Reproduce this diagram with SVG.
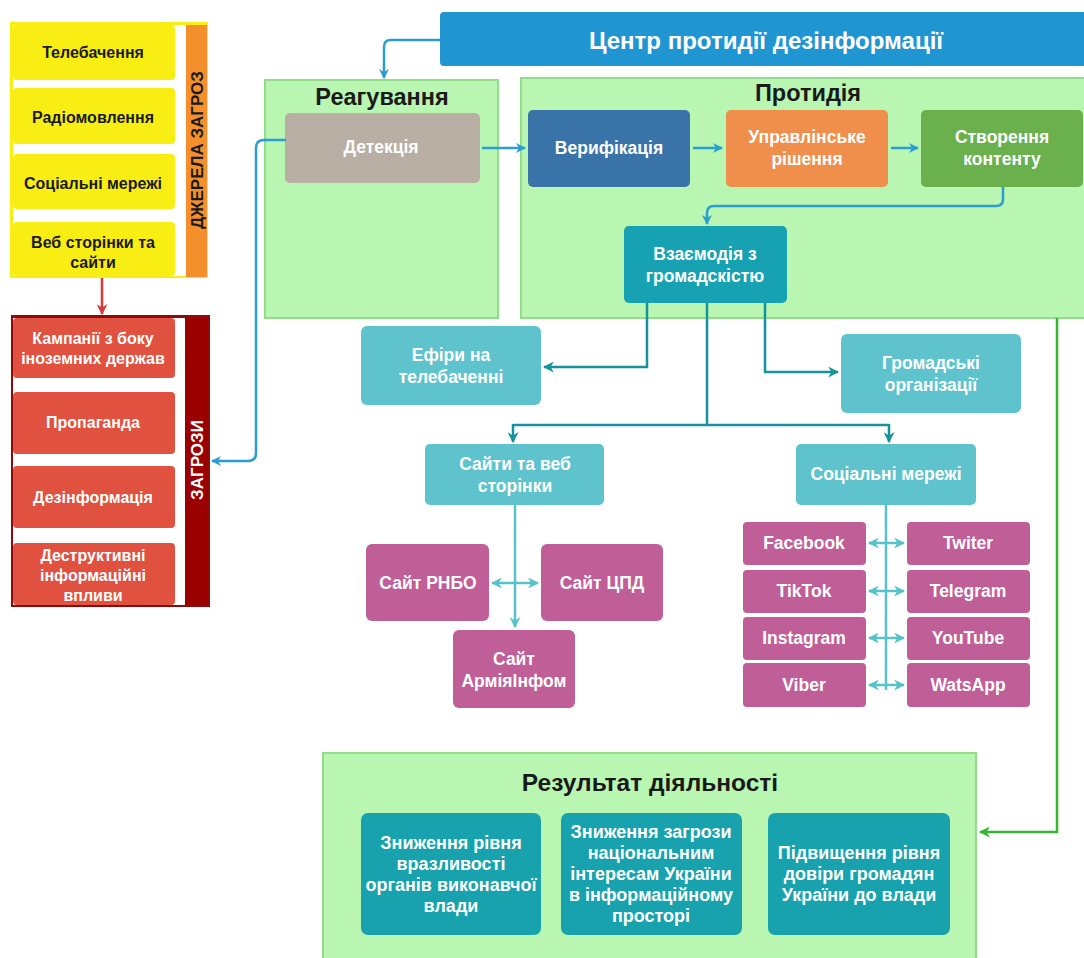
<svg xmlns="http://www.w3.org/2000/svg" width="1084" height="958" viewBox="0 0 1084 958">
<style>
text{font-family:"Liberation Sans",Arial,sans-serif;font-weight:bold;text-anchor:middle;dominant-baseline:central}
.w{fill:#fff;font-size:17.5px}
.r{fill:#fff;font-size:18px}
.s{fill:#fff;font-size:16px}
.k{fill:#1a1a1a;font-size:16px}
.t{fill:#1a1a1a;font-size:23.5px}
.panel{fill:#b9f6b2;stroke:#92dc8c;stroke-width:2}
.mag{fill:#c05e98}
.lt{fill:#5ec3cd}
.ln{fill:none;stroke-width:2.5}
</style>
<defs>
<marker id="ab" viewBox="0 0 10 10" refX="9" refY="5" markerWidth="10" markerHeight="10" markerUnits="userSpaceOnUse" orient="auto-start-reverse"><path d="M0,0 L10,5 L0,10 L3,5 Z" fill="#2a9dd3"/></marker>
<marker id="at" viewBox="0 0 10 10" refX="9" refY="5" markerWidth="11" markerHeight="11" markerUnits="userSpaceOnUse" orient="auto-start-reverse"><path d="M0,0 L10,5 L0,10 L3,5 Z" fill="#16929e"/></marker>
<marker id="al" viewBox="0 0 10 10" refX="9" refY="5" markerWidth="11" markerHeight="11" markerUnits="userSpaceOnUse" orient="auto-start-reverse"><path d="M0,0 L10,5 L0,10 L3,5 Z" fill="#56c2c9"/></marker>
<marker id="ar" viewBox="0 0 10 10" refX="9" refY="5" markerWidth="11" markerHeight="11" markerUnits="userSpaceOnUse" orient="auto"><path d="M0,0 L10,5 L0,10 L3,5 Z" fill="#d43c3c"/></marker>
<marker id="ag" viewBox="0 0 10 10" refX="9" refY="5" markerWidth="11" markerHeight="11" markerUnits="userSpaceOnUse" orient="auto"><path d="M0,0 L10,5 L0,10 L3,5 Z" fill="#33b733"/></marker>
</defs>
<rect width="1084" height="958" fill="#fff"/>

<!-- panels -->
<g id="panel-reaguvannia"><rect class="panel" x="265" y="80" width="233" height="238"/><text class="t" x="382" y="97">Реагування</text></g>
<g id="panel-protydiia"><rect class="panel" x="521" y="78" width="570" height="240"/><text class="t" x="808" y="93">Протидія</text></g>
<g id="panel-result"><rect class="panel" x="323" y="753" width="653" height="215" fill="#b1eeab"/><text class="t" x="650" y="782" style="font-size:24.5px">Результат діяльності</text></g>

<!-- sources -->
<g id="sources">
<rect x="10" y="22" width="198" height="256" fill="#f8ee14"/>
<rect x="13" y="25" width="173" height="251" fill="#fff"/>
<rect x="186" y="25" width="21" height="252" fill="#f4902c"/>
<text x="197" y="150" transform="rotate(-90 197 150)" style="font-size:17px;fill:#1a1a1a">ДЖЕРЕЛА ЗАГРОЗ</text>
</g>
<g id="src-tv"><rect x="13" y="25" width="162" height="55" rx="4" fill="#f8ee14"/><text class="k" x="93" y="52">Телебачення</text></g>
<g id="src-radio"><rect x="13" y="88" width="162" height="56" rx="4" fill="#f8ee14"/><text class="k" x="93" y="117">Радіомовлення</text></g>
<g id="src-social"><rect x="13" y="154" width="162" height="55" rx="4" fill="#f8ee14"/><text class="k" x="93" y="183">Соціальні мережі</text></g>
<g id="src-web"><rect x="13" y="222" width="162" height="54" rx="4" fill="#f8ee14"/><text class="k" x="93" y="242">Веб сторінки та</text><text class="k" x="93" y="262">сайти</text></g>

<!-- threats -->
<g id="threats">
<rect x="11" y="315" width="199" height="292" fill="#8f0a0a"/>
<rect x="13" y="318" width="172" height="287" fill="#fff"/>
<rect x="185" y="318" width="23" height="287" fill="#9a0000"/>
<text x="197" y="460" transform="rotate(-90 197 460)" style="font-size:17px;fill:#fff">ЗАГРОЗИ</text>
</g>
<g id="thr-campaigns"><rect x="13" y="318" width="162" height="60" rx="4" fill="#e0513f"/><text class="s" x="93" y="338">Кампанії з боку</text><text class="s" x="93" y="358">іноземних держав</text></g>
<g id="thr-propaganda"><rect x="13" y="392" width="162" height="62" rx="4" fill="#e0513f"/><text class="s" x="93" y="422">Пропаганда</text></g>
<g id="thr-disinfo"><rect x="13" y="466" width="162" height="62" rx="4" fill="#e0513f"/><text class="s" x="93" y="497">Дезінформація</text></g>
<g id="thr-destructive"><rect x="13" y="543" width="162" height="62" rx="4" fill="#e0513f"/><text class="s" x="93" y="555">Деструктивні</text><text class="s" x="93" y="575">інформаційні</text><text class="s" x="93" y="595">впливи</text></g>

<!-- header -->
<g id="center"><rect x="440" y="12" width="650" height="54" rx="4" fill="#1f95d2"/><text x="766" y="40" style="font-size:24px;fill:#fff">Центр протидії дезінформації</text></g>

<g id="detection"><rect x="285" y="113" width="195" height="70" rx="5" fill="#b9aea4"/><text class="w" x="381" y="147">Детекція</text></g>
<g id="verification"><rect x="528" y="110" width="162" height="77" rx="5" fill="#3a73a7"/><text class="w" x="609" y="148">Верифікація</text></g>
<g id="decision"><rect x="726" y="110" width="162" height="77" rx="5" fill="#f08f4c"/><text class="w" x="807" y="137">Управлінське</text><text class="w" x="807" y="159">рішення</text></g>
<g id="content"><rect x="921" y="110" width="162" height="77" rx="5" fill="#6ab14e"/><text class="w" x="1002" y="137">Створення</text><text class="w" x="1002" y="159">контенту</text></g>
<g id="interaction"><rect x="624" y="226" width="163" height="77" rx="5" fill="#16a2b2"/><text class="w" x="705" y="254">Взаємодія з</text><text class="w" x="705" y="276">громадскістю</text></g>

<g id="tv-air"><rect class="lt" x="361" y="326" width="180" height="79" rx="6"/><text class="w" x="451" y="355">Ефіри на</text><text class="w" x="451" y="377">телебаченні</text></g>
<g id="ngo"><rect class="lt" x="841" y="334" width="180" height="79" rx="6"/><text class="w" x="931" y="363">Громадські</text><text class="w" x="931" y="385">організації</text></g>
<g id="sites"><rect class="lt" x="425" y="444" width="179" height="61" rx="5"/><text class="w" x="515" y="464">Сайти та веб</text><text class="w" x="515" y="486">сторінки</text></g>
<g id="socials"><rect class="lt" x="796" y="444" width="180" height="61" rx="5"/><text class="w" x="886" y="474">Соціальні мережі</text></g>

<g id="site-rnbo"><rect class="mag" x="366" y="544" width="123" height="77" rx="6"/><text class="w" x="428" y="583">Сайт РНБО</text></g>
<g id="site-cpd"><rect class="mag" x="541" y="544" width="122" height="77" rx="6"/><text class="w" x="602" y="583">Сайт ЦПД</text></g>
<g id="site-army"><rect class="mag" x="453" y="630" width="122" height="78" rx="6"/><text class="w" x="514" y="659">Сайт</text><text class="w" x="514" y="681">АрміяІнфом</text></g>

<g id="facebook"><rect class="mag" x="743" y="522" width="123" height="43" rx="4"/><text class="w" x="804" y="543">Facebook</text></g>
<g id="twitter"><rect class="mag" x="907" y="522" width="123" height="43" rx="4"/><text class="w" x="968" y="543">Twiter</text></g>
<g id="tiktok"><rect class="mag" x="743" y="570" width="123" height="43" rx="4"/><text class="w" x="804" y="591">TikTok</text></g>
<g id="telegram"><rect class="mag" x="907" y="570" width="123" height="43" rx="4"/><text class="w" x="968" y="591">Telegram</text></g>
<g id="instagram"><rect class="mag" x="743" y="617" width="123" height="43" rx="4"/><text class="w" x="804" y="638">Instagram</text></g>
<g id="youtube"><rect class="mag" x="907" y="617" width="123" height="43" rx="4"/><text class="w" x="968" y="638">YouTube</text></g>
<g id="viber"><rect class="mag" x="743" y="663" width="123" height="44" rx="4"/><text class="w" x="804" y="685">Viber</text></g>
<g id="whatsapp"><rect class="mag" x="907" y="663" width="123" height="44" rx="4"/><text class="w" x="968" y="685">WatsApp</text></g>

<g id="res-1"><rect x="361" y="813" width="180" height="122" rx="7" fill="#18a2ad"/><text class="r" x="451" y="843">Зниження рівня</text><text class="r" x="451" y="864">вразливості</text><text class="r" x="451" y="885">органів виконавчої</text><text class="r" x="451" y="906">влади</text></g>
<g id="res-2"><rect x="561" y="813" width="181" height="122" rx="7" fill="#18a2ad"/><text class="r" x="651" y="832">Зниження загрози</text><text class="r" x="651" y="853">національним</text><text class="r" x="651" y="874">інтересам України</text><text class="r" x="651" y="895">в інформаційному</text><text class="r" x="651" y="916">просторі</text></g>
<g id="res-3"><rect x="768" y="813" width="182" height="122" rx="7" fill="#18a2ad"/><text class="r" x="859" y="853">Підвищення рівня</text><text class="r" x="859" y="874">довіри громадян</text><text class="r" x="859" y="895">України до влади</text></g>

<!-- connectors -->
<g id="connectors">
<path d="M102,278 V314" class="ln" stroke="#d43c3c" stroke-width="2" marker-end="url(#ar)"/>
<path d="M440,40 H391 Q384,40 384,47 V78" class="ln" stroke="#2a9dd3" marker-end="url(#ab)"/>
<path d="M286,140 H264 Q256,140 256,148 V453 Q256,461 248,461 H212" class="ln" stroke="#2a9dd3" marker-end="url(#ab)"/>
<path d="M482,148 H525" class="ln" stroke="#2a9dd3" marker-end="url(#ab)"/>
<path d="M693,148 H722" class="ln" stroke="#2a9dd3" marker-end="url(#ab)"/>
<path d="M891,148 H918" class="ln" stroke="#2a9dd3" marker-end="url(#ab)"/>
<path d="M1003,187 V199 Q1003,206 996,206 H714 Q707,206 707,213 V224" class="ln" stroke="#2a9dd3" marker-end="url(#ab)"/>
<path d="M647,303 V367 H544" class="ln" stroke="#16929e" marker-end="url(#at)"/>
<path d="M765,303 V372 H838" class="ln" stroke="#16929e" marker-end="url(#at)"/>
<path d="M707,303 V425" class="ln" stroke="#16929e"/>
<path d="M513,425 H889" class="ln" stroke="#16929e"/>
<path d="M513,424 V442" class="ln" stroke="#16929e" marker-end="url(#at)"/>
<path d="M889,424 V442" class="ln" stroke="#16929e" marker-end="url(#at)"/>
<path d="M515,505 V627" class="ln" stroke="#56c2c9" marker-end="url(#al)"/>
<path d="M492,583 H538" class="ln" stroke="#56c2c9" marker-start="url(#al)" marker-end="url(#al)"/>
<path d="M886,505 V690" class="ln" stroke="#56c2c9"/>
<path d="M869,543 H904" class="ln" stroke="#56c2c9" stroke-width="2" marker-start="url(#al)" marker-end="url(#al)"/>
<path d="M869,591 H904" class="ln" stroke="#56c2c9" stroke-width="2" marker-start="url(#al)" marker-end="url(#al)"/>
<path d="M869,638 H904" class="ln" stroke="#56c2c9" stroke-width="2" marker-start="url(#al)" marker-end="url(#al)"/>
<path d="M869,685 H904" class="ln" stroke="#56c2c9" stroke-width="2" marker-start="url(#al)" marker-end="url(#al)"/>
<path d="M1057,318 V832 H980" class="ln" stroke="#33b733" stroke-width="2" marker-end="url(#ag)"/>
</g>
</svg>
